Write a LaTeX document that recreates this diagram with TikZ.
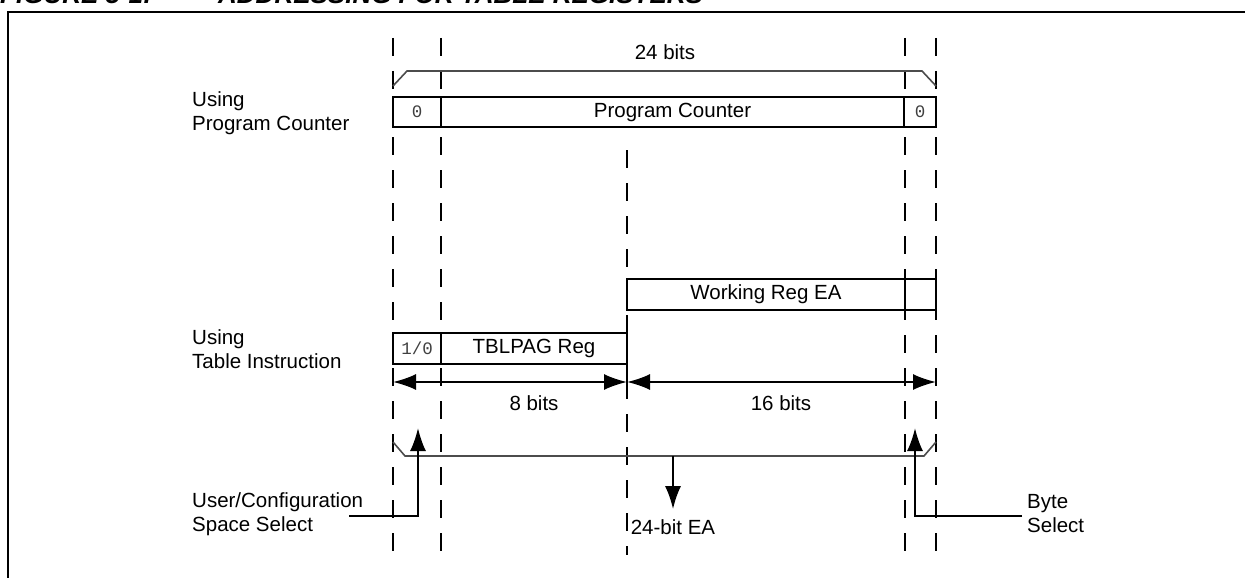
\documentclass[tikz,border=0pt]{standalone}
\usepackage{fontspec}
\setmainfont{Liberation Sans}
\newfontfamily\monof{Liberation Mono}
\usetikzlibrary{arrows.meta}
\begin{document}
\begin{tikzpicture}[x=1pt,y=-1pt,
  every node/.style={font=\fontsize{20.5}{24}\selectfont},
  reg/.style={draw,line width=2pt,fill=white,inner sep=0pt,outer sep=0pt,minimum height=30pt},
  bitval/.style={font=\monof\fontsize{17.5}{20}\selectfont,text=black!75},
  guide/.style={line width=2pt,dash pattern=on 18pt off 15pt},
  brace/.style={line width=1.6pt,draw=black!70},
  dim/.style={line width=2pt,{Latex[length=23pt,width=16pt]}-{Latex[length=23pt,width=16pt]}},
  ptr/.style={line width=2pt,-{Latex[length=23pt,width=16pt]}},
  lbl/.style={align=left,anchor=west,inner sep=0pt,font=\fontsize{20.5}{24}\selectfont}]
\useasboundingbox (0,0) rectangle (1245,578);
% title (cut off at the top, as in the reference)
\node[anchor=base west,inner sep=0pt,font=\fontsize{26}{28}\selectfont\bfseries\itshape] (t1) at (0,4) {FIGURE 5-1:};
\node[anchor=base west,inner sep=0pt,font=\fontsize{26}{28}\selectfont\bfseries\itshape] (t2) at (218,4) {ADDRESSING FOR TABLE REGISTERS};
% frame
\draw[line width=2pt] (8,580) -- (8,12) -- (1250,12);
% guide lines
\coordinate (gA1) at (393,38); \coordinate (gA2) at (393,555);
\coordinate (gB1) at (441,38); \coordinate (gB2) at (441,555);
\coordinate (gC1) at (627,150); \coordinate (gC2) at (627,555);
\coordinate (gD1) at (905,38); \coordinate (gD2) at (905,555);
\coordinate (gE1) at (936,38); \coordinate (gE2) at (936,555);
\foreach \a/\b in {gA1/gA2,gB1/gB2,gC1/gC2,gD1/gD2,gE1/gE2} \draw[guide] (\a) -- (\b);
% 24 bits bracket
\coordinate (bt1) at (393,86); \coordinate (bt2) at (407,71);
\coordinate (bt3) at (922,71); \coordinate (bt4) at (936,86);
\draw[brace] (bt1) -- (bt2) -- (bt3) -- (bt4);
\node (b24) at (665,52) {24 bits};
% Program counter row
\node[reg,minimum width=48pt] (pc0) at (417,112) {};
\node[bitval] at (pc0) {0};
\node[reg,minimum width=463pt] (pc) at (672.5,112) {Program Counter};
\node[reg,minimum width=32pt] (pc1) at (920,112) {};
\node[bitval] at (pc1) {0};
\node[lbl] (u1) at (192,113) {Using\\Program Counter};
% Working reg
\node[reg,minimum width=278pt,minimum height=31pt] (wr) at (766,294.5) {Working Reg EA};
\node[reg,minimum width=31pt,minimum height=31pt] (wr1) at (920.5,294.5) {};
% TBLPAG
\node[reg,minimum width=48pt,minimum height=31pt] (tb0) at (417,348.5) {};
\node[bitval] at (tb0) {1/0};
\node[reg,minimum width=186pt,minimum height=31pt] (tb) at (534,348.5) {TBLPAG Reg};
\node[lbl] (u2) at (192,349) {Using\\Table Instruction};
% solid line at 627
\coordinate (s1) at (627,322); \coordinate (s2) at (627,388);
\draw[line width=2pt] (s1) -- (s2);
% dimension arrows
\coordinate (d1) at (393,382); \coordinate (d2) at (627,382); \coordinate (d3) at (936,382);
\draw[dim] (d1) -- (d2);
\draw[dim] (d2) -- (d3);
\node (b8) at (534,403) {8 bits};
\node (b16) at (781,403) {16 bits};
% bottom bracket
\coordinate (bb1) at (393,442); \coordinate (bb2) at (405,456);
\coordinate (bb3) at (924,456); \coordinate (bb4) at (936,442);
\draw[brace] (bb1) -- (bb2) -- (bb3) -- (bb4);
\coordinate (ea0) at (673,456);
\node[outer sep=7pt] (ea) at (673,527) {24-bit EA};
\draw[ptr] (ea0) -- (ea.north);
% select pointers
\node[lbl] (usr) at (192,514) {User/Configuration\\Space Select};
\coordinate (us1) at (349,516); \coordinate (us2) at (418,516); \coordinate (us3) at (418,428);
\draw[ptr] (us1) -- (us2) -- (us3);
\node[lbl] (bs) at (1027,514) {Byte\\Select};
\coordinate (bs1) at (1022,516); \coordinate (bs2) at (915,516); \coordinate (bs3) at (915,428);
\draw[ptr] (bs1) -- (bs2) -- (bs3);
\end{tikzpicture}
\end{document}
